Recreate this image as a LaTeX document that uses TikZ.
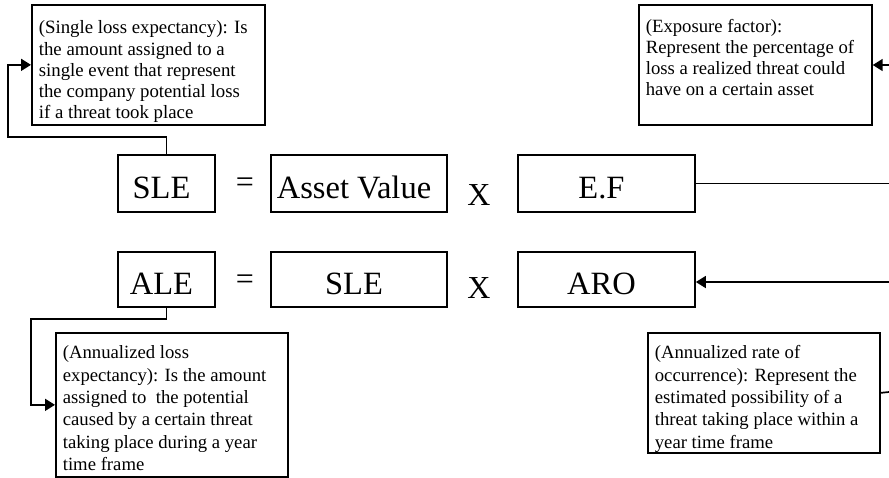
\documentclass[tikz,border=0pt]{standalone}
\usepackage{fontspec}
\setmainfont{Liberation Serif}
\usetikzlibrary{arrows.meta}

% Description paragraph: width, height, first baseline, font size, line skip, text
\newcommand\descpar[6]{\parbox[c][#2][t]{#1}{\fontsize{#4}{#5}\selectfont
  \leftskip=7pt\rightskip=0pt plus 1fil\parindent=0pt\rule{0pt}{#3}#6}}

\begin{document}
\begin{tikzpicture}[x=1pt,y=-1pt,
  frame/.style={draw, line width=1.7pt},
  termbox/.style={frame, inner sep=0pt, font=\fontsize{32.5}{32.5}\selectfont,
    text height=29pt, text depth=0pt, execute at begin node={\kern-10pt}},
  termtext/.style={inner sep=0pt, font=\fontsize{32}{32}\selectfont},
  descbox/.style={frame, inner sep=0pt, anchor=north west},
  link/.style={line width=1.7pt},
  arrowlink/.style={link, -{Triangle[length=10pt,width=12pt]}}]

\useasboundingbox (0,0) rectangle (889,477);

% Formula: SLE = Asset Value x E.F
\node[termbox, minimum width=97pt, minimum height=57pt] (sle) at (166.5,183.5) {SLE};
\node[termtext, anchor=base] (eq1) at (245,192) {=};
\node[termbox, minimum width=176pt, minimum height=57pt] (asset) at (359,183.5) {Asset Value};
\node[termtext, anchor=base] (times1) at (479,205) {X};
\node[termbox, minimum width=177pt, minimum height=57pt] (ef) at (606.5,183.5) {E.F};

% Formula: ALE = SLE x ARO
\node[termbox, minimum width=97pt, minimum height=55pt] (ale) at (166.5,279.5) {ALE};
\node[termtext, anchor=base] (eq2) at (245,289) {=};
\node[termbox, minimum width=176pt, minimum height=55pt] (slecopy) at (359,279.5) {SLE};
\node[termtext, anchor=base] (times2) at (479,298) {X};
\node[termbox, minimum width=177pt, minimum height=55pt] (aro) at (606.5,279.5) {ARO};

% Definitions
\node[descbox] (sledesc) at (31,4) {\descpar{233pt}{120pt}{29pt}{18.8pt}{21.2pt}{%
(Single loss expectancy): Is\\
the amount assigned to a\\
single event that represent\\
the company potential loss\\
if a threat took place}};

\node[descbox] (efdesc) at (638,4) {\descpar{233pt}{120pt}{28pt}{18.7pt}{21pt}{%
(Exposure factor):\\
Represent the percentage of\\
loss a realized threat could\\
have on a certain asset}};

\node[descbox] (aledesc) at (55,332) {\descpar{232pt}{144pt}{26pt}{18.7pt}{22.3pt}{%
(Annualized loss\\
expectancy): Is the amount\\
assigned to\ \ the potential\\
caused by a certain threat\\
taking place during a year\\
time frame}};

\node[descbox] (arodesc) at (647,332) {\descpar{232pt}{120pt}{26pt}{18.7pt}{22.3pt}{%
(Annualized rate of\\
occurrence): Represent the\\
estimated possibility of a\\
threat taking place within a\\
year time frame}};

% Connectors
\coordinate (loopa) at (8,137);
\draw[arrowlink] (sle.north) |- (loopa) |- (sledesc.west);

\coordinate (loopb) at (31,319);
\draw[arrowlink] (ale.south) |- (loopb) |- (aledesc.west);

\coordinate (efout) at (889,183.5);
\draw[link] (ef.east) -- (efout);
\coordinate (efin) at (889,65);
\draw[arrowlink] (efin) -- (efin -| efdesc.east);

\coordinate (arodescout) at (889,392);
\draw[link] (arodesc.east) -- (arodescout);
\coordinate (aroin) at (889,282);
\draw[arrowlink] (aroin) -- (aroin -| aro.east);
\end{tikzpicture}
\end{document}
